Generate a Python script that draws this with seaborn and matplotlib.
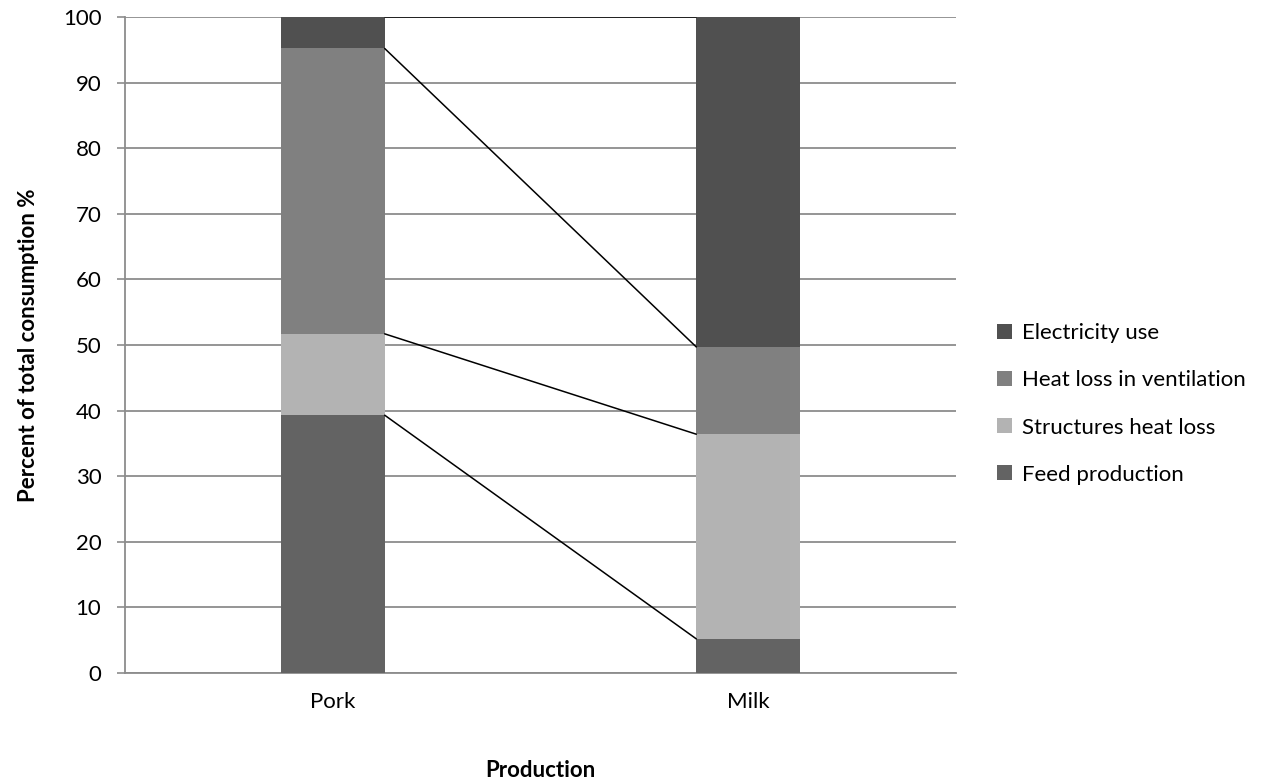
import matplotlib
matplotlib.use("Agg")
import matplotlib.pyplot as plt
import seaborn as sns
import pandas as pd
import numpy as np

categories = ["Pork", "Milk"]
series = ["Feed production", "Structures heat loss", "Heat loss in ventilation", "Electricity use"]
feed_production = [39.3, 5.2]
structures_heat_loss = [12.4, 31.2]
heat_loss_ventilation = [43.5, 13.3]
electricity_use = [4.8, 50.3]
colors = {"Feed production": "#636363", "Structures heat loss": "#b3b3b3",
          "Heat loss in ventilation": "#808080", "Electricity use": "#505050"}

sns.set_theme(style="white")
plt.rcParams['font.family'] = ['Lato', 'DejaVu Sans']
plt.rcParams['text.color'] = 'black'
plt.rcParams['axes.labelcolor'] = 'black'
plt.rcParams['xtick.labelcolor'] = 'black'
plt.rcParams['ytick.labelcolor'] = 'black'

values = np.array([feed_production, structures_heat_loss, heat_loss_ventilation, electricity_use])
cum = np.cumsum(values, axis=0)

fig = plt.figure(figsize=(12.72, 7.81), dpi=100)
ax = fig.add_axes([125/1272, 1-673/781, (956-125)/1272, (673-17)/781])

# draw cumulative totals from the top series down (overdraw stacking)
for i in range(len(series) - 1, -1, -1):
    df = pd.DataFrame({"Production": categories, "value": cum[i]})
    sns.barplot(data=df, x="Production", y="value", color=colors[series[i]],
                width=0.25, ax=ax, saturation=1, label=series[i], zorder=3,
                linewidth=0)

# connector lines between the bars
half = 0.125
for i in range(len(series)):
    ax.plot([0 + half, 1 - half], [cum[i][0], cum[i][1]], color="black", lw=1.1, zorder=4)

FS = 16
ax.set_xlim(-0.5, 1.5)
ax.set_ylim(0, 100)
ax.set_yticks(range(0, 101, 10))
ax.yaxis.grid(True, color="#8c8c8c", lw=1.3, zorder=0)
ax.set_axisbelow(True)
for s in ["top", "right"]:
    ax.spines[s].set_visible(False)
ax.spines["left"].set_color("#8c8c8c")
ax.spines["bottom"].set_color("#8c8c8c")
ax.spines["left"].set_linewidth(1.3)
ax.spines["bottom"].set_linewidth(1.3)
ax.tick_params(axis="y", left=True, length=6, width=1.2, color="#8c8c8c", labelsize=FS, pad=11,
               labelcolor="black")
ax.tick_params(axis="x", bottom=False, labelsize=FS, pad=8, labelcolor="black")

ax.set_xlabel("Production", fontsize=FS, fontweight="bold", labelpad=34, color="black")
ax.set_ylabel("Percent of total consumption %", fontsize=FS, fontweight="bold", labelpad=17,
              color="black")

handles, labels = ax.get_legend_handles_labels()
order = ["Electricity use", "Heat loss in ventilation", "Structures heat loss", "Feed production"]
hmap = dict(zip(labels, handles))
ax.legend([hmap[l] for l in order], order, loc="center left", bbox_to_anchor=(1.0, 0.41),
          frameon=False, fontsize=FS, handlelength=0.65, handleheight=0.65,
          handletextpad=0.45, labelspacing=1.22, borderaxespad=1.45, labelcolor="black")

fig.savefig("out.png", dpi=100)
